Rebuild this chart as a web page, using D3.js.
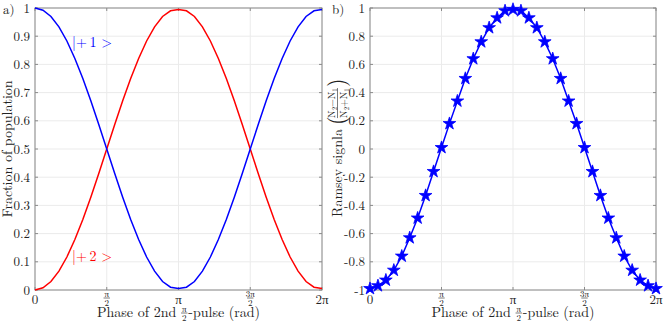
<!DOCTYPE html>
<html>
<head>
<meta charset="utf-8">
<script src="https://cdn.jsdelivr.net/npm/d3@7"></script>
<style>
  body { margin: 0; background: #fff; }
  svg { font-family: "Latin Modern Roman", "Liberation Serif", serif; }
</style>
</head>
<body>
<script>
// phase in units of pi (0 .. 2, steps of pi/18)
var phase = [0, 0.0556, 0.1111, 0.1667, 0.2222, 0.2778, 0.3333, 0.3889, 0.4444, 0.5,
  0.5556, 0.6111, 0.6667, 0.7222, 0.7778, 0.8333, 0.8889, 0.9444, 1,
  1.0556, 1.1111, 1.1667, 1.2222, 1.2778, 1.3333, 1.3889, 1.4444, 1.5,
  1.5556, 1.6111, 1.6667, 1.7222, 1.7778, 1.8333, 1.8889, 1.9444, 2];

// population read from panel a)
var popPlus1 = [1, 0.992, 0.970, 0.933, 0.883, 0.821, 0.750, 0.671, 0.587, 0.500,
  0.413, 0.329, 0.250, 0.179, 0.117, 0.067, 0.030, 0.010, 0.005,
  0.010, 0.030, 0.067, 0.117, 0.179, 0.250, 0.329, 0.413, 0.500,
  0.587, 0.671, 0.750, 0.821, 0.883, 0.933, 0.970, 0.990, 0.995];
var popPlus2 = [0, 0.008, 0.030, 0.067, 0.117, 0.179, 0.250, 0.329, 0.413, 0.500,
  0.587, 0.671, 0.750, 0.821, 0.883, 0.933, 0.970, 0.990, 0.995,
  0.990, 0.970, 0.933, 0.883, 0.821, 0.750, 0.671, 0.587, 0.500,
  0.413, 0.329, 0.250, 0.179, 0.117, 0.067, 0.030, 0.010, 0.005];

// Ramsey signal read from panel b)
var ramsey = [-0.99, -0.97, -0.93, -0.86, -0.76, -0.63, -0.49, -0.33, -0.16, 0.01,
  0.18, 0.34, 0.50, 0.64, 0.76, 0.86, 0.93, 0.98, 0.99,
  0.98, 0.93, 0.86, 0.76, 0.64, 0.50, 0.34, 0.18, 0.01,
  -0.16, -0.33, -0.49, -0.63, -0.76, -0.86, -0.93, -0.97, -0.99];

var xTicks = [0, 0.5, 1, 1.5, 2];
var xTickLabels = [["0"], ["π", "2"], ["π"], ["3π", "2"], ["2π"]];
var yTicksA = [0, 0.1, 0.2, 0.3, 0.4, 0.5, 0.6, 0.7, 0.8, 0.9, 1];
var yTicksB = [-1, -0.8, -0.6, -0.4, -0.2, 0, 0.2, 0.4, 0.6, 0.8, 1];

var W = 664, H = 324,
    plotTop = 8, plotBottom = 290,
    axisColor = "#8a8a8a", gridColor = "#ebebeb";

var svg = d3.select("body").append("svg")
  .attr("width", W).attr("height", H);

function fraction(g, x, y, num, den, size) {
  // small stacked fraction centred on x, bar at y
  g.append("text").attr("x", x).attr("y", y - 1.5)
    .attr("text-anchor", "middle").style("font-size", size + "px").attr("fill", "#222").text(num);
  var t = g.append("text").attr("x", x).attr("y", y + size - 1.5)
    .attr("text-anchor", "middle").style("font-size", size + "px").attr("fill", "#222").text(den);
  var w = Math.max(t.node().getComputedTextLength(), size * 0.6) + 1;
  g.append("line").attr("x1", x - w / 2).attr("x2", x + w / 2)
    .attr("y1", y).attr("y2", y).attr("stroke", "#222").attr("stroke-width", 0.6);
}

function panel(x0, x1, yDomain, yTicks, yFmt) {
  var x = d3.scaleLinear().domain([0, 2]).range([x0, x1]);
  var y = d3.scaleLinear().domain(yDomain).range([plotBottom, plotTop]);
  var g = svg.append("g");

  // grid
  g.selectAll(".gx").data(xTicks).enter().append("line")
    .attr("x1", function (d) { return x(d); }).attr("x2", function (d) { return x(d); })
    .attr("y1", plotTop).attr("y2", plotBottom).attr("stroke", gridColor);
  g.selectAll(".gy").data(yTicks).enter().append("line")
    .attr("y1", function (d) { return y(d); }).attr("y2", function (d) { return y(d); })
    .attr("x1", x0).attr("x2", x1).attr("stroke", gridColor);

  // box
  g.append("rect").attr("x", x0).attr("y", plotTop)
    .attr("width", x1 - x0).attr("height", plotBottom - plotTop)
    .attr("fill", "none").attr("stroke", axisColor).attr("stroke-width", 1);

  // inward ticks on all four sides
  var tl = 3;
  xTicks.forEach(function (d) {
    g.append("line").attr("x1", x(d)).attr("x2", x(d)).attr("y1", plotBottom).attr("y2", plotBottom - tl).attr("stroke", axisColor);
    g.append("line").attr("x1", x(d)).attr("x2", x(d)).attr("y1", plotTop).attr("y2", plotTop + tl).attr("stroke", axisColor);
  });
  yTicks.forEach(function (d) {
    g.append("line").attr("x1", x0).attr("x2", x0 + tl).attr("y1", y(d)).attr("y2", y(d)).attr("stroke", axisColor);
    g.append("line").attr("x1", x1).attr("x2", x1 - tl).attr("y1", y(d)).attr("y2", y(d)).attr("stroke", axisColor);
  });

  // y tick labels
  g.selectAll(".yl").data(yTicks).enter().append("text")
    .attr("x", x0 - 5).attr("y", function (d) { return y(d) + 4.5; })
    .attr("text-anchor", "end").style("font-size", "13px").attr("fill", "#222")
    .text(yFmt);

  // x tick labels
  xTicks.forEach(function (d, i) {
    var lab = xTickLabels[i];
    if (lab.length === 1) {
      g.append("text").attr("x", x(d)).attr("y", plotBottom + 14)
        .attr("text-anchor", "middle").style("font-size", "13px").attr("fill", "#222").text(lab[0]);
    } else {
      fraction(g, x(d), plotBottom + 8, lab[0], lab[1], 9);
    }
  });

  // x label: Phase of 2nd pi/2-pulse (rad)
  var xl = g.append("g");
  var t1 = xl.append("text").attr("y", plotBottom + 27).style("font-size", "14px").attr("fill", "#222").text("Phase of 2nd");
  var w1 = t1.node().getComputedTextLength() + 4;
  var t2 = xl.append("text").attr("y", plotBottom + 27).style("font-size", "14px").attr("fill", "#222").text("-pulse (rad)");
  var w2 = t2.node().getComputedTextLength();
  var fw = 8, total = w1 + fw + w2, sx = (x0 + x1) / 2 - total / 2;
  t1.attr("x", sx);
  t2.attr("x", sx + w1 + fw);
  fraction(xl, sx + w1 + fw / 2, plotBottom + 23, "π", "2", 9);

  return { x: x, y: y, g: g };
}

// ---------------- panel a) ----------------
var a = panel(35, 322, [0, 1], yTicksA, function (d) { return d === 0 || d === 1 ? d : d.toFixed(1); });

var lineA = function (vals) {
  return d3.line()
    .x(function (d, i) { return a.x(phase[i]); })
    .y(function (d) { return a.y(d); })(vals);
};
a.g.append("path").attr("d", lineA(popPlus2)).attr("fill", "none").attr("stroke", "#ff0000").attr("stroke-width", 1.5);
a.g.append("path").attr("d", lineA(popPlus1)).attr("fill", "none").attr("stroke", "#0000ff").attr("stroke-width", 1.5);

a.g.append("text").attr("x", 72).attr("y", 47).style("font-size", "14px").attr("fill", "#0000ff").text("|+\u20091 >");
a.g.append("text").attr("x", 72).attr("y", 261).style("font-size", "14px").attr("fill", "#ff0000").text("|+\u20092 >");

svg.append("text").attr("x", 3).attr("y", 14).style("font-size", "13px").attr("fill", "#222").text("a)");

// y label a)
svg.append("text").attr("transform", "translate(12," + ((plotTop + plotBottom) / 2) + ") rotate(-90)")
  .attr("text-anchor", "middle").style("font-size", "14px").attr("fill", "#222")
  .text("Fraction of population");

// ---------------- panel b) ----------------
var b = panel(370, 656, [-1, 1], yTicksB, function (d) { return d === 0 || Math.abs(d) === 1 ? d : d.toFixed(1); });

b.g.append("path")
  .attr("d", d3.line()
    .x(function (d, i) { return b.x(phase[i]); })
    .y(function (d) { return b.y(d); })(ramsey))
  .attr("fill", "none").attr("stroke", "#0000ff").attr("stroke-width", 1.5);

b.g.selectAll(".star").data(ramsey).enter().append("path")
  .attr("transform", function (d, i) { return "translate(" + b.x(phase[i]) + "," + b.y(d) + ")"; })
  .attr("d", d3.symbol().type(d3.symbolStar).size(50))
  .attr("fill", "#0000ff").attr("stroke", "#0000ff").attr("stroke-width", 0.8);

svg.append("text").attr("x", 332).attr("y", 14).style("font-size", "13px").attr("fill", "#222").text("b)");

// y label b): Ramsey signla ( (N2-N1)/(N2+N1) )
var yl = svg.append("g").attr("transform", "translate(342," + ((plotTop + plotBottom) / 2) + ") rotate(-90)");
var r1 = yl.append("text").attr("y", 0).style("font-size", "14px").attr("fill", "#222").text("Ramsey signla");
var rw = r1.node().getComputedTextLength() + 4;
var fracW = 32, parW = 6;
var tot = rw + parW * 2 + fracW, st = -tot / 2;
r1.attr("x", st);
yl.append("text").attr("x", st + rw).attr("y", 2).style("font-size", "22px").attr("fill", "#222").text("(");
yl.append("text").attr("x", st + rw + parW + fracW).attr("y", 2).style("font-size", "22px").attr("fill", "#222").text(")");
function subLabel(sign) {
  return function (t) {
    t.append("tspan").text("N");
    t.append("tspan").attr("dy", 2).style("font-size", "7px").text("2");
    t.append("tspan").attr("dy", -2).text(sign + "N");
    t.append("tspan").attr("dy", 2).style("font-size", "7px").text("1");
  };
}
var cx = st + rw + parW + fracW / 2;
yl.append("text").attr("x", cx).attr("y", -7).attr("text-anchor", "middle").style("font-size", "10px").attr("fill", "#222").call(subLabel("−"));
yl.append("text").attr("x", cx).attr("y", 5).attr("text-anchor", "middle").style("font-size", "10px").attr("fill", "#222").call(subLabel("+"));
yl.append("line").attr("x1", cx - fracW / 2 + 1).attr("x2", cx + fracW / 2 - 1).attr("y1", -4.5).attr("y2", -4.5)
  .attr("stroke", "#222").attr("stroke-width", 0.6);
</script>
</body>
</html>
